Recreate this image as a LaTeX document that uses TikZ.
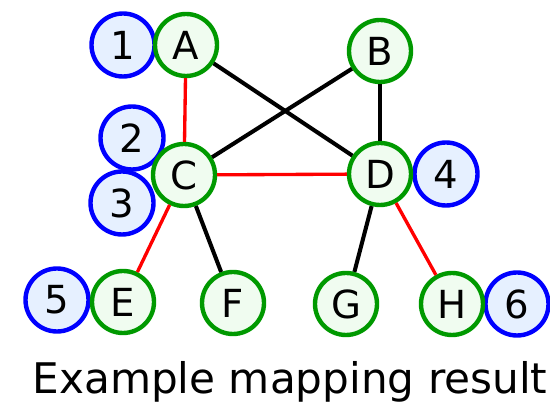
\documentclass[tikz,border=0pt]{standalone}
\usepackage{fontspec}
\setmainfont{DejaVu Sans}
\definecolor{vertfill}{RGB}{240,252,240}
\definecolor{numfill}{RGB}{230,240,255}
\begin{document}
\begin{tikzpicture}[font=\fontsize{22}{26}\selectfont,
	vert/.style={circle, draw=green!60!black, fill=vertfill, line width=2.5pt, minimum size=1.24cm, inner sep=0pt},
	num/.style={circle, draw=blue, fill=numfill, line width=2.5pt, minimum size=1.26cm, inner sep=0pt},
	edge/.style={line width=2.3pt},
	mapped/.style={line width=1.9pt, red}]
	\useasboundingbox (0,0) rectangle (11,8.18);
	% mapping numbers
	\node[num] (n1) at (2.46,7.28) {1};
	\node[num] (n2) at (2.64,5.42) {2};
	\node[num] (n3) at (2.44,4.12) {3};
	\node[num] (n4) at (8.92,4.70) {4};
	\node[num] (n5) at (1.14,2.18) {5};
	\node[num] (n6) at (10.34,2.10) {6};
	% graph vertices
	\node[vert] (A) at (3.72,7.28) {A};
	\node[vert] (B) at (7.60,7.16) {B};
	\node[vert] (C) at (3.68,4.68) {C};
	\node[vert] (D) at (7.60,4.70) {D};
	\node[vert] (E) at (2.46,2.14) {E};
	\node[vert] (F) at (4.66,2.12) {F};
	\node[vert] (G) at (6.92,2.10) {G};
	\node[vert] (H) at (9.04,2.10) {H};
	% edges, mapped ones in red
	\draw[edge] (A) -- (D);
	\draw[edge] (B) -- (C);
	\draw[edge] (B) -- (D);
	\draw[edge] (C) -- (F);
	\draw[edge] (D) -- (G);
	\draw[mapped] (A) -- (C);
	\draw[mapped] (C) -- (D);
	\draw[mapped] (C) -- (E);
	\draw[mapped] (D) -- (H);
	\node (caption) at (5.8,0.54) {\fontsize{24}{28}\selectfont Example mapping result};
\end{tikzpicture}
\end{document}
